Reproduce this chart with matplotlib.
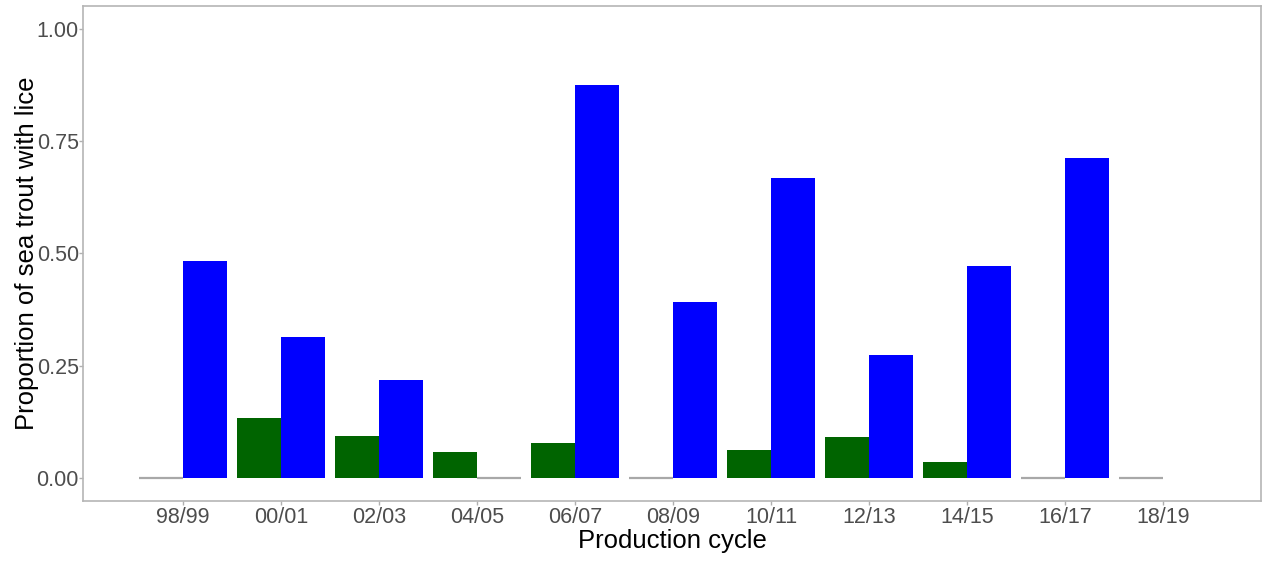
import numpy as np
import matplotlib.pyplot as plt

plt.rcParams['font.family'] = ['Liberation Sans', 'DejaVu Sans']

cycles = ['98/99', '00/01', '02/03', '04/05', '06/07', '08/09',
          '10/11', '12/13', '14/15', '16/17', '18/19']
green_vals = [0.0, 0.134, 0.093, 0.058, 0.078, 0.0, 0.062, 0.091, 0.036, 0.0, 0.0]
blue_vals = [0.483, 0.314, 0.218, 0.0, 0.875, 0.392, 0.668, 0.274, 0.472, 0.712, np.nan]

x = np.arange(len(cycles))
w = 0.45

fig = plt.figure(figsize=(12.67, 5.62), dpi=100)
ax = fig.add_axes([0.0655, 0.109, 0.9298, 0.8803])

def draw(offset, vals, colour):
    for xi, v in zip(x, vals):
        if np.isnan(v):
            continue
        if v == 0:
            # empty groups show up as a flat grey outline
            ax.bar(xi + offset, v, width=w, color='none', edgecolor='#a8a8a8', linewidth=1.6)
        else:
            ax.bar(xi + offset, v, width=w, color=colour, edgecolor='none')

draw(-w / 2, green_vals, '#006400')
draw(w / 2, blue_vals, '#0000ff')

ax.set_xlim(-1.02, 11.0)
ax.set_ylim(-0.05, 1.05)
ax.set_xticks(x)
ax.set_xticklabels(cycles)
ax.set_yticks([0, 0.25, 0.5, 0.75, 1.0])
ax.set_yticklabels(['0.00', '0.25', '0.50', '0.75', '1.00'])
ax.tick_params(colors='#b0b0b0', labelcolor='#4d4d4d', labelsize=15.5, length=3, width=1)
ax.tick_params(axis='x', pad=1.5)
ax.tick_params(axis='y', pad=0)
for s in ax.spines.values():
    s.set_color('#b5b5b5')
    s.set_linewidth(1.2)

ax.set_xlabel('Production cycle', fontsize=18.5, labelpad=0.4)
ax.set_ylabel('Proportion of sea trout with lice', fontsize=18.5)
ax.yaxis.set_label_coords(-0.037, 0.5)

fig.savefig('out.png', dpi=100)
